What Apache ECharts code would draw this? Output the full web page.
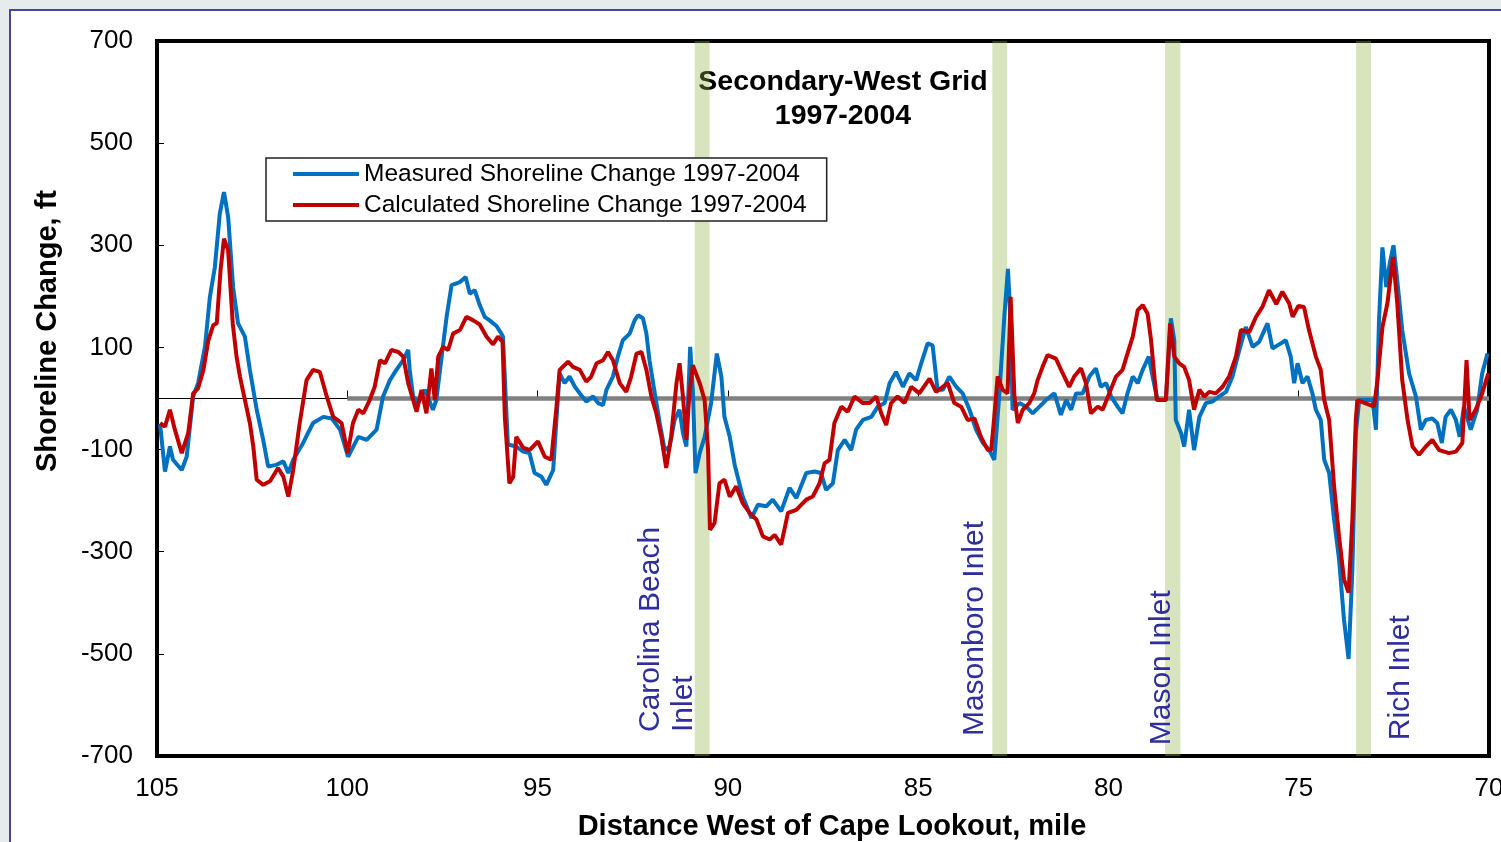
<!DOCTYPE html>
<html>
<head>
<meta charset="utf-8">
<title>Secondary-West Grid 1997-2004</title>
<script src="https://cdn.jsdelivr.net/npm/echarts@6/dist/echarts.min.js"></script>
<style>
  html, body { margin: 0; padding: 0; background: #fff; }
  #main { width: 1501px; height: 842px; }
</style>
</head>
<body>
<div id="main"></div>
<script>
// distance west of Cape Lookout (mile), shoreline change (ft)
const measured = [
  [104.92, -50], [104.79, -143], [104.66, -94], [104.58, -120], [104.35, -140], [104.22, -114], [104.05, 4], [103.92, 30],
  [103.74, 101], [103.61, 199], [103.48, 257], [103.35, 362], [103.24, 404], [103.13, 355], [103.00, 218], [102.87, 147],
  [102.69, 121], [102.56, 56], [102.38, -22], [102.21, -81], [102.08, -133], [101.86, -130], [101.68, -123], [101.55, -146],
  [101.42, -120], [101.16, -87], [100.90, -48], [100.63, -36], [100.41, -39], [100.19, -61], [99.98, -114], [99.71, -75],
  [99.49, -81], [99.23, -61], [99.06, 4], [98.88, 36], [98.71, 56], [98.53, 75], [98.40, 95], [98.36, 56],
  [98.27, 4], [98.14, -9], [97.96, 17], [97.75, -22], [97.66, -3], [97.52, 82], [97.39, 160], [97.26, 222],
  [97.04, 228], [96.89, 238], [96.78, 205], [96.65, 212], [96.52, 183], [96.39, 160], [96.26, 153], [96.08, 142],
  [95.95, 127], [95.91, 121], [95.78, -90], [95.56, -94], [95.38, -104], [95.21, -107], [95.08, -146], [94.90, -153],
  [94.77, -169], [94.59, -140], [94.51, -48], [94.42, 49], [94.29, 30], [94.16, 43], [94.02, 23], [93.89, 10],
  [93.72, -6], [93.54, 4], [93.41, -9], [93.28, -13], [93.19, 17], [93.02, 43], [92.89, 82], [92.76, 114],
  [92.58, 127], [92.45, 153], [92.36, 163], [92.23, 157], [92.14, 127], [92.06, 75], [91.92, 10], [91.79, -48],
  [91.66, -101], [91.53, -94], [91.40, -42], [91.27, -22], [91.18, -68], [91.09, -94], [90.99, 101], [90.92, 17],
  [90.85, -146], [90.74, -107], [90.61, -75], [90.44, -9], [90.29, 88], [90.17, 43], [90.09, -36], [89.95, -75],
  [89.82, -130], [89.61, -192], [89.38, -234], [89.21, -208], [88.99, -211], [88.82, -198], [88.60, -221], [88.38, -175],
  [88.20, -195], [87.94, -146], [87.72, -143], [87.55, -146], [87.42, -179], [87.24, -166], [87.11, -101], [86.93, -81],
  [86.76, -101], [86.63, -61], [86.45, -42], [86.23, -36], [86.06, -16], [85.88, -9], [85.75, 30], [85.58, 52],
  [85.40, 23], [85.23, 49], [85.05, 36], [84.92, 69], [84.75, 108], [84.62, 104], [84.49, 17], [84.35, 17],
  [84.18, 43], [84.00, 23], [83.83, 10], [83.65, -22], [83.48, -61], [83.30, -87], [83.13, -101], [83.00, -120],
  [82.87, 4], [82.73, 166], [82.64, 254], [82.56, 134], [82.52, -22], [82.34, -9], [82.16, -16], [81.99, -29],
  [81.81, -16], [81.64, -3], [81.42, 10], [81.25, -32], [81.11, -3], [80.98, -22], [80.85, 10], [80.68, 10],
  [80.50, 43], [80.33, 59], [80.20, 23], [80.06, 30], [79.93, 4], [79.76, -16], [79.63, -29], [79.50, 10],
  [79.36, 43], [79.23, 30], [79.10, 56], [78.94, 82], [78.84, 43], [78.71, -3], [78.49, -3], [78.36, 157],
  [78.27, 114], [78.23, -42], [78.09, -68], [78.01, -94], [77.88, -22], [77.75, -101], [77.61, -36], [77.44, -9],
  [77.27, -6], [77.09, 4], [76.91, 13], [76.74, 43], [76.56, 95], [76.39, 140], [76.21, 101], [76.04, 111],
  [75.82, 147], [75.69, 98], [75.47, 108], [75.34, 114], [75.21, 82], [75.12, 30], [75.03, 69], [74.90, 30],
  [74.77, 43], [74.64, 10], [74.55, -22], [74.42, -42], [74.33, -120], [74.20, -146], [74.07, -237], [73.94, -315],
  [73.81, -433], [73.69, -510], [73.59, -335], [73.50, -68], [73.41, -3], [73.06, -3], [72.97, -61], [72.89, 153],
  [72.80, 296], [72.70, 218], [72.61, 264], [72.51, 300], [72.41, 231], [72.28, 134], [72.10, 49], [71.92, 4],
  [71.79, -61], [71.66, -42], [71.49, -39], [71.36, -48], [71.24, -87], [71.14, -36], [71.00, -22], [70.87, -42],
  [70.77, -75], [70.66, -16], [70.48, -61], [70.31, -22], [70.18, 49], [70.04, 88]
]

const calculated = [
  [104.92, -48], [104.79, -55], [104.66, -22], [104.53, -61], [104.35, -107], [104.18, -68], [104.05, 10], [103.92, 20],
  [103.78, 56], [103.65, 114], [103.52, 144], [103.43, 147], [103.33, 251], [103.24, 313], [103.13, 290], [103.01, 147],
  [102.91, 82], [102.82, 43], [102.69, -3], [102.56, -48], [102.47, -94], [102.38, -159], [102.21, -169], [102.03, -162],
  [101.82, -136], [101.68, -153], [101.55, -192], [101.42, -140], [101.25, -48], [101.07, 36], [100.90, 56], [100.72, 52],
  [100.54, 4], [100.37, -36], [100.15, -48], [99.99, -107], [99.85, -48], [99.71, -22], [99.58, -29], [99.41, -3],
  [99.28, 23], [99.14, 75], [99.01, 69], [98.84, 95], [98.66, 91], [98.53, 82], [98.40, 30], [98.27, -3],
  [98.18, -26], [98.05, 17], [97.92, -29], [97.79, 59], [97.70, -3], [97.61, 82], [97.48, 101], [97.35, 95],
  [97.22, 127], [97.04, 134], [96.87, 160], [96.69, 153], [96.52, 145], [96.34, 121], [96.17, 106], [96.04, 121],
  [95.92, 111], [95.86, -36], [95.74, -166], [95.64, -153], [95.56, -75], [95.38, -96], [95.21, -101], [94.99, -84],
  [94.81, -114], [94.64, -120], [94.51, -22], [94.42, 56], [94.20, 72], [94.07, 62], [93.89, 56], [93.72, 33],
  [93.59, 43], [93.45, 69], [93.28, 75], [93.15, 91], [93.02, 75], [92.84, 30], [92.67, 13], [92.54, 43],
  [92.40, 88], [92.27, 91], [92.14, 56], [92.01, 4], [91.88, -29], [91.75, -75], [91.62, -136], [91.49, -75],
  [91.35, 30], [91.27, 69], [91.18, 4], [91.09, -81], [91.01, 10], [90.92, 65], [90.74, 30], [90.61, -3],
  [90.52, -101], [90.47, -257], [90.35, -244], [90.22, -166], [90.09, -159], [89.95, -192], [89.78, -172], [89.61, -205],
  [89.43, -224], [89.25, -237], [89.08, -270], [88.90, -276], [88.77, -267], [88.60, -286], [88.42, -224], [88.20, -218],
  [87.94, -198], [87.77, -192], [87.59, -166], [87.46, -127], [87.33, -120], [87.20, -48], [87.02, -16], [86.85, -26],
  [86.67, 4], [86.45, -9], [86.28, -9], [86.10, 4], [85.97, -29], [85.84, -52], [85.71, -9], [85.54, 4],
  [85.36, -9], [85.18, 23], [84.97, 10], [84.70, 39], [84.53, 13], [84.22, 30], [84.05, -9], [83.87, -16],
  [83.70, -42], [83.52, -39], [83.35, -75], [83.17, -101], [83.08, -101], [83.00, -36], [82.91, 43], [82.78, 17],
  [82.65, 10], [82.57, 199], [82.47, 4], [82.38, -48], [82.25, -22], [82.08, -9], [81.95, 10], [81.86, 36],
  [81.73, 62], [81.60, 85], [81.38, 78], [81.20, 49], [81.03, 23], [80.90, 43], [80.72, 59], [80.59, 30],
  [80.46, -29], [80.28, -16], [80.15, -22], [79.98, 10], [79.80, 43], [79.63, 56], [79.50, 88], [79.36, 121],
  [79.23, 173], [79.10, 183], [78.97, 166], [78.88, 114], [78.80, 49], [78.73, -3], [78.49, -3], [78.38, 147],
  [78.27, 82], [78.14, 69], [78.01, 62], [77.88, 36], [77.75, -22], [77.61, 17], [77.48, 4], [77.35, 13],
  [77.18, 10], [77.00, 23], [76.83, 43], [76.65, 82], [76.52, 134], [76.30, 130], [76.12, 160], [75.95, 180],
  [75.78, 212], [75.59, 185], [75.43, 209], [75.25, 186], [75.16, 160], [75.01, 181], [74.86, 179], [74.73, 134],
  [74.55, 82], [74.42, 56], [74.33, -3], [74.20, -42], [74.07, -172], [73.94, -270], [73.81, -354], [73.69, -380],
  [73.59, -237], [73.50, -42], [73.46, -3], [73.02, -16], [72.93, 36], [72.80, 140], [72.67, 186], [72.52, 277],
  [72.41, 186], [72.28, 36], [72.14, -42], [72.01, -94], [71.84, -110], [71.66, -94], [71.49, -81], [71.31, -101],
  [71.05, -107], [70.87, -104], [70.70, -87], [70.59, 75], [70.51, -42], [70.35, -22], [70.18, 10], [70.02, 49]
]

// zero reference line drawn from mile 100 to 70
const zeroLine = [[100, 0], [70, 0]]

// inlet bands (mile range)
const inletBands = [
  [90.87, 90.48],
  [83.05, 82.66],
  [78.51, 78.11],
  [73.49, 73.10]
]

// inlet names, anchored at [mile, ft]
const inletLabels = [
  [91.60, -653, 'Carolina Beach\nInlet'],
  [83.52, -661, 'Masonboro Inlet'],
  [78.59, -679, 'Mason Inlet'],
  [72.31, -669, 'Rich Inlet']
]

const yTicks = [-700, -500, -300, -100, 100, 300, 500, 700]

const FONT = '"Liberation Sans", Arial, sans-serif'

const chart = echarts.init(document.getElementById('main'))

const option = {
  animation: false,
  backgroundColor: '#fff',
  textStyle: { fontFamily: FONT },
  grid: {
    left: 157,
    right: 12,
    top: 41,
    bottom: 86,
    outerBoundsMode: 'none',
    containLabel: false,
    show: true,
    borderColor: '#000',
    borderWidth: 4,
    backgroundColor: 'transparent'
  },
  legend: {
    left: 266,
    top: 158,
    orient: 'vertical',
    data: ['Measured Shoreline Change 1997-2004', 'Calculated Shoreline Change 1997-2004'],
    icon: 'rect',
    itemWidth: 66,
    itemHeight: 4,
    itemGap: 5,
    padding: [3, 20, 3, 27],
    backgroundColor: '#fff',
    borderColor: '#222',
    borderWidth: 1.5,
    textStyle: { fontFamily: FONT, fontSize: 24.5, color: '#000', lineHeight: 26 }
  },
  xAxis: [
    {
      type: 'value',
      min: 70,
      max: 105,
      interval: 5,
      inverse: true,
      axisLine: { show: false, onZero: false },
      axisTick: { show: false },
      splitLine: { show: false },
      axisLabel: { fontSize: 26, color: '#000', margin: 20, fontFamily: FONT },
      name: 'Distance West of Cape Lookout, mile',
      nameLocation: 'middle',
      nameGap: 56,
      nameTextStyle: { fontSize: 29, fontWeight: 'bold', color: '#000', fontFamily: FONT, padding: [0, 0, 0, 18] }
    },
    {
      // axis line across y = 0 with small upward ticks
      type: 'value',
      min: 70,
      max: 105,
      interval: 5,
      inverse: true,
      position: 'bottom',
      axisLine: { show: true, onZero: true, lineStyle: { color: '#000', width: 1 } },
      axisTick: { show: true, inside: true, length: 8, lineStyle: { color: '#000', width: 1 } },
      axisLabel: { show: false },
      splitLine: { show: false }
    }
  ],
  yAxis: {
    type: 'value',
    min: -700,
    max: 700,
    interval: 200,
    axisLine: { show: false },
    axisTick: { show: true, inside: true, length: 7, customValues: yTicks, lineStyle: { color: '#000' } },
    splitLine: { show: false },
    axisLabel: { fontSize: 26, color: '#000', margin: 24, customValues: yTicks, fontFamily: FONT }
  },
  graphic: [
    {
      type: 'rect',
      z: -1,
      silent: true,
      shape: { x: 0, y: 0, width: 1501, height: 842 },
      style: { fill: '#e6ebeb' }
    },
    {
      type: 'rect',
      z: -1,
      silent: true,
      shape: { x: 10, y: 10, width: 1500, height: 840 },
      style: { fill: '#fff', stroke: '#4646a6', lineWidth: 2 }
    },
    {
      type: 'text',
      silent: true,
      x: 48,
      y: 331,
      rotation: Math.PI / 2,
      style: {
        text: 'Shoreline Change, ft',
        font: 'bold 29px ' + FONT,
        fill: '#000',
        textAlign: 'center',
        textVerticalAlign: 'middle'
      }
    },
    {
      type: 'group',
      z: 100,
      children: [
        {
          type: 'rect',
          shape: { x: 690, y: 58, width: 307, height: 77 },
          style: { fill: '#fff' }
        },
        {
          type: 'text',
          x: 843,
          y: 99,
          style: {
            text: 'Secondary-West Grid\n1997-2004',
            font: 'bold 28.5px ' + FONT,
            lineHeight: 34,
            fill: '#000',
            textAlign: 'center',
            textVerticalAlign: 'middle'
          }
        }
      ]
    }
  ],
  series: [
    {
      name: 'zero',
      type: 'line',
      data: zeroLine,
      showSymbol: false,
      silent: true,
      lineStyle: { color: '#808080', width: 4.5 },
      z: 2
    },
    {
      name: 'Measured Shoreline Change 1997-2004',
      type: 'line',
      data: measured,
      color: '#0070C0',
      showSymbol: false,
      lineStyle: { width: 4 },
      z: 3
    },
    {
      name: 'Calculated Shoreline Change 1997-2004',
      type: 'line',
      data: calculated,
      color: '#C00000',
      showSymbol: false,
      lineStyle: { width: 4 },
      z: 3
    },
    {
      name: 'inlets',
      type: 'line',
      data: [],
      silent: true,
      z: 4,
      markArea: {
        silent: true,
        itemStyle: { color: 'rgba(141,178,66,0.35)' },
        data: inletBands.map(b => [{ xAxis: b[0] }, { xAxis: b[1] }])
      }
    },
    {
      name: 'inlet names',
      type: 'scatter',
      data: inletLabels,
      symbolSize: 0,
      silent: true,
      z: 5,
      itemStyle: { opacity: 1 },
      label: {
        show: true,
        position: 'inside',
        rotate: 90,
        align: 'left',
        verticalAlign: 'middle',
        fontSize: 30,
        lineHeight: 33,
        color: '#2e2e9c',
        opacity: 1,
        textBorderWidth: 0,
        fontFamily: FONT,
        formatter: p => p.data[2]
      }
    }
  ]
}

chart.setOption(option)
</script>
</body>
</html>
